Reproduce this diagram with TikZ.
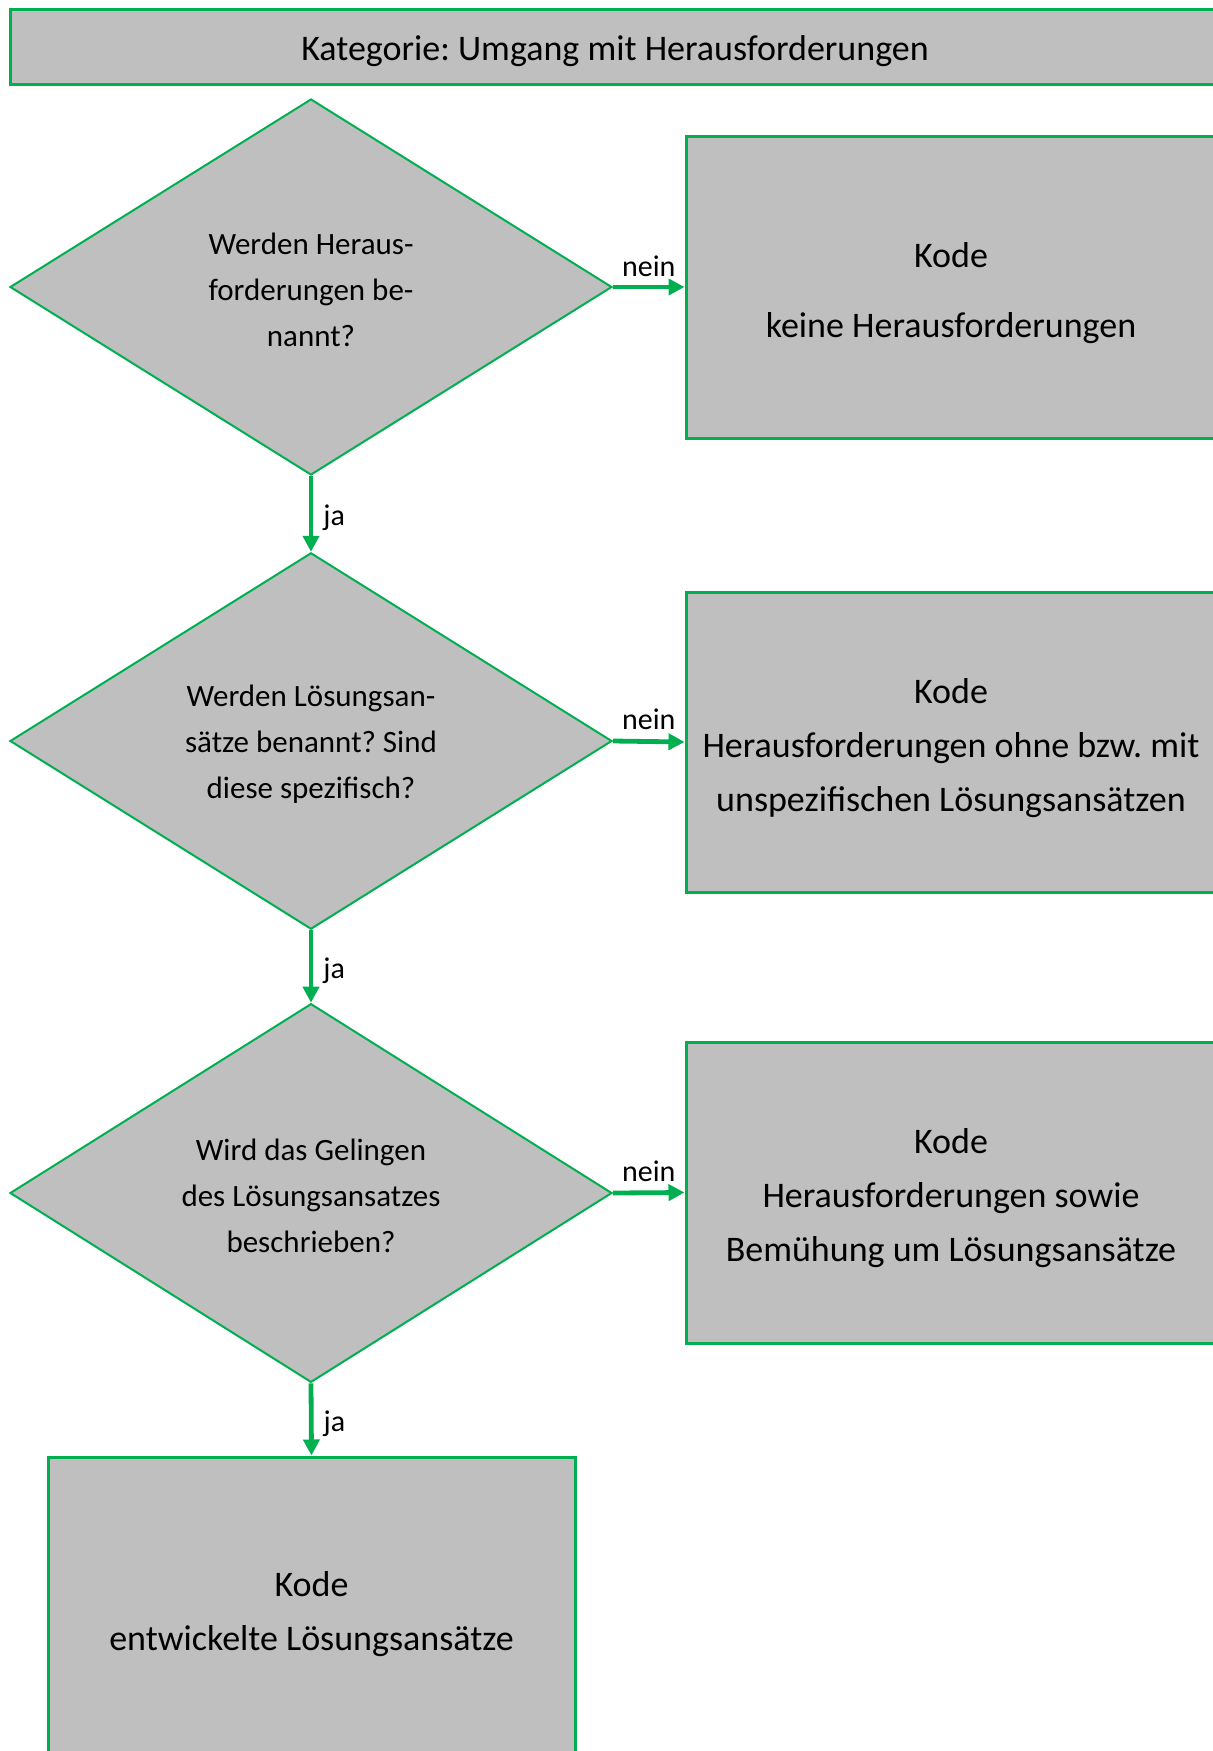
\documentclass[tikz,border=0pt]{standalone}
\usepackage{fontspec}
\setmainfont{Carlito}
\frenchspacing
\usetikzlibrary{shapes.geometric,arrows.meta}
\definecolor{grn}{HTML}{00B050}
\definecolor{gry}{HTML}{BFBFBF}
\newcommand{\pushdown}[1]{\vrule width 0pt height \dimexpr\fontcharht\font`\d+#1\relax}
\begin{document}
\begin{tikzpicture}[x=0.5pt,y=-0.5pt,
  box/.style={draw=grn, fill=gry, line width=1.5pt, rectangle, align=center, inner sep=0pt,
    font=\fontsize{18}{27}\selectfont},
  dec/.style={draw=grn, fill=gry, line width=1pt, diamond, minimum width=301pt, minimum height=188pt,
    inner sep=0pt, align=center, font=\fontsize{15.5}{23}\selectfont},
  arr/.style={draw=grn, line width=2.4pt, -{Triangle[length=8pt,width=8pt]}},
  lab/.style={font=\fontsize{15}{18}\selectfont, inner sep=1pt}]
\clip (0,0) rectangle (1213,1751);
\useasboundingbox (0,0) rectangle (1213,1751);
\fill[white] (0,0) rectangle (1213,1751);

\node[box, minimum width=605pt, minimum height=37.5pt] (title) at (615,46.5)
  {\pushdown{4.4pt}Kategorie: Umgang mit Herausforderungen};

\node[dec] (d1) at (311,287) {\pushdown{3pt}Werden Heraus-\\forderungen be-\\nannt?};
\node[dec] (d2) at (311,741) {\pushdown{3pt}Werden Lösungsan-\\sätze benannt? Sind\\diese spezifisch?};
\node[dec] (d3) at (311,1193) {\pushdown{3pt}Wird das Gelingen\\des Lösungsansatzes\\beschrieben?};

\node[box, minimum width=265pt, minimum height=151pt] (b1) at (951,287)
  {\pushdown{5.6pt}Kode\\[8pt]keine Herausforderungen};
\node[box, minimum width=265pt, minimum height=150pt] (b2) at (951,742)
  {\pushdown{5.6pt}Kode\\Herausforderungen ohne bzw. mit\\unspezifischen Lösungsansätzen};
\node[box, minimum width=265pt, minimum height=150.5pt] (b3) at (951,1192.5)
  {\pushdown{5.6pt}Kode\\Herausforderungen sowie\\Bemühung um Lösungsansätze};
\node[box, minimum width=263.5pt, minimum height=151pt] (b4) at (311.5,1608)
  {\pushdown{5.6pt}Kode\\entwickelte Lösungsansätze};

\draw[arr] (d1.east) -- node[lab, above=3pt] {nein} (b1.west);
\draw[arr] (d2.east) -- node[lab, above=3.5pt] {nein} (b2.west);
\draw[arr] (d3.east) -- node[lab, above=3.5pt] {nein} (b3.west);
\draw[arr] (d1.south) -- node[lab, right=4pt, yshift=-2pt] {ja} (d2.north);
\draw[arr] (d2.south) -- node[lab, right=4pt, yshift=-2pt] {ja} (d3.north);
\draw[arr] (d3.south) -- node[lab, right=4pt, yshift=-2pt] {ja} (b4.north);
\end{tikzpicture}
\end{document}
